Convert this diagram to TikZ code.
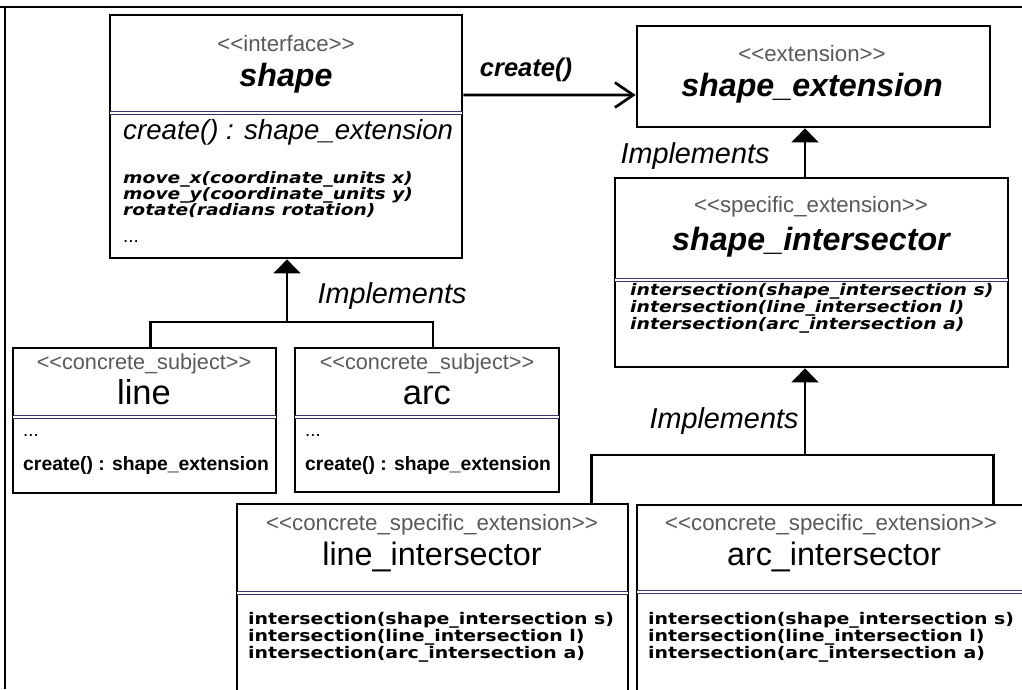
\documentclass[tikz,border=0pt]{standalone}
\usepackage{fontspec}
\setmainfont{Liberation Sans}[Ligatures=TeXOff]
\newfontfamily\wideface{DejaVu Sans}[Ligatures=TeXOff, FakeStretch=1.18]
\usetikzlibrary{arrows.meta, positioning, fit}
\definecolor{sepblue}{RGB}{52,52,104}

\begin{document}
\begin{tikzpicture}[
  x=0.03cm, y=-0.03cm,
  classbox/.style={draw, line width=2.3pt, inner sep=0pt},
  sepline/.style={draw=sepblue, line width=0.9pt, double=white, double distance=1.1pt},
  stereo/.style={anchor=mid, text=black!65, font=\fontsize{19}{22}\selectfont},
  absname/.style={anchor=mid, font=\fontsize{27.5}{32}\selectfont\bfseries\itshape},
  bigname/.style={anchor=mid, font=\fontsize{29.5}{34}\selectfont},
  intname/.style={anchor=mid, font=\fontsize{27.6}{32}\selectfont},
  opline/.style={anchor=mid west, inner sep=0pt, font=\fontsize{23.6}{27}\selectfont\itshape},
  shapemeth/.style={anchor=mid west, inner sep=0pt, font=\wideface\fontsize{13.5}{16}\selectfont\bfseries\itshape},
  intmeth/.style={anchor=mid west, inner sep=0pt, font=\wideface\fontsize{13.7}{17}\selectfont\bfseries},
  subjmeth/.style={anchor=mid west, inner sep=0pt, font=\fontsize{16.5}{19}\selectfont\bfseries},
  dots/.style={anchor=base west, inner sep=0pt, font=\fontsize{16}{19}\selectfont},
  implabel/.style={anchor=mid, font=\fontsize{24.6}{28}\selectfont\itshape},
  createlabel/.style={anchor=mid, font=\fontsize{21.8}{25}\selectfont\bfseries\itshape},
  bus/.style={line width=2.3pt},
  realize/.style={line width=2.3pt, -{Triangle[width=0.8cm, length=0.42cm]}},
  openhead/.style={line width=2.3pt, -{Straight Barb[length=0.55cm, width=0.75cm]}},
]
\useasboundingbox (0,0) rectangle (1022,689);
\clip (0,0) rectangle (1022,689);
\draw[line width=1pt] (0,7) -- (1022,7) (5,7) -- (5,689);

% class boxes
\node[classbox, fit={(110,15) (462,258)}] (shapeBox) {};
\node[classbox, fit={(637,26) (990,127)}] (extBox) {};
\node[classbox, fit={(615,178) (1008,367)}] (interBox) {};
\node[classbox, fit={(13,348) (276,493)}] (lineBox) {};
\node[classbox, fit={(295,348) (559,492)}] (arcBox) {};
\node[classbox, fit={(237,504) (628,720)}] (lineInt) {};
\node[classbox, fit={(637,505) (1040,720)}] (arcInt) {};

\foreach \xa/\xb/\yy in {110/462/113, 615/1008/280, 13/276/417, 295/559/417, 237/628/593, 637/1040/592}
  \draw[sepline] (\xa,\yy) -- (\xb,\yy);

% shape
\node[stereo] (shapeSt) at (286,48) {<<interface>>};
\node[absname] (shapeNm) at (286,83) {shape};
\node[opline] (shapeOp) at (123,136) {create() : shape\_extension};
\foreach \t [count=\i] in {{move\_x(coordinate\_units x)}, {move\_y(coordinate\_units y)}, {rotate(radians rotation)}}
  \node[shapemeth] (shapeM\i) at (123,164+16*\i) {\t};
\node[dots] (shapeDots) at (123,242) {...};

% shape_extension
\node[stereo] (extSt) at (812,58) {<<extension>>};
\node[absname] (extNm) at (812,93) {shape\_extension};

% shape_intersector
\node[stereo] (interSt) at (811,209) {<<specific\_extension>>};
\node[absname] (interNm) at (811,247) {shape\_intersector};
\foreach \t [count=\i] in {{intersection(shape\_intersection s)}, {intersection(line\_intersection l)}, {intersection(arc\_intersection a)}}
  \node[shapemeth, font=\wideface\fontsize{13.6}{17}\selectfont\bfseries\itshape] (interM\i) at (630,275+17*\i) {\t};

% line and arc
\node[stereo, font=\fontsize{18.5}{22}\selectfont] (lineSt) at (144,366) {<<concrete\_subject>>};
\node[bigname] (lineNm) at (144,401) {line};
\node[dots] (lineDots) at (23,436) {...};
\node[subjmeth] (lineOp) at (23,467) {create() : shape\_extension};
\node[stereo, font=\fontsize{18.5}{22}\selectfont] (arcSt) at (427,366) {<<concrete\_subject>>};
\node[bigname] (arcNm) at (427,401) {arc};
\node[dots] (arcDots) at (305,436) {...};
\node[subjmeth] (arcOp) at (305,467) {create() : shape\_extension};

% line_intersector and arc_intersector
\node[stereo] (lineIntSt) at (432,527) {<<concrete\_specific\_extension>>};
\node[intname] (lineIntNm) at (432,562) {line\_intersector};
\node[stereo] (arcIntSt) at (831,527) {<<concrete\_specific\_extension>>};
\node[intname] (arcIntNm) at (834,562) {arc\_intersector};
\foreach \t [count=\i] in {{intersection(shape\_intersection s)}, {intersection(line\_intersection l)}, {intersection(arc\_intersection a)}} {
  \node[intmeth] (lineIntM\i) at (248,605+16.8*\i) {\t};
  \node[intmeth] (arcIntM\i) at (648,605+16.8*\i) {\t};
}

% connectors
\draw[openhead] ([yshift=1.245cm]shapeBox.east) -- ([yshift=-0.555cm]extBox.west);
\node[createlabel] (createLbl) at (526,73) {create()};

\coordinate (busA) at (287,322);
\draw[bus] ([xshift=0.18cm]lineBox.north) |- (busA) -| ([xshift=0.18cm]arcBox.north);
\draw[realize] (busA) -- (busA |- shapeBox.south);
\node[implabel] (implA) at (392,300) {Implements};

\coordinate (busB) at (805,455);
\draw[realize] (busB |- interBox.north) -- (busB |- extBox.south);
\node[implabel] (implB) at (695,160) {Implements};
\draw[bus] ([xshift=-1.14cm]lineInt.north east) |- (busB) -| ([xshift=10.74cm]arcInt.north west);
\draw[realize] (busB) -- (busB |- interBox.south);
\node[implabel] (implC) at (724,425) {Implements};
\end{tikzpicture}
\end{document}
